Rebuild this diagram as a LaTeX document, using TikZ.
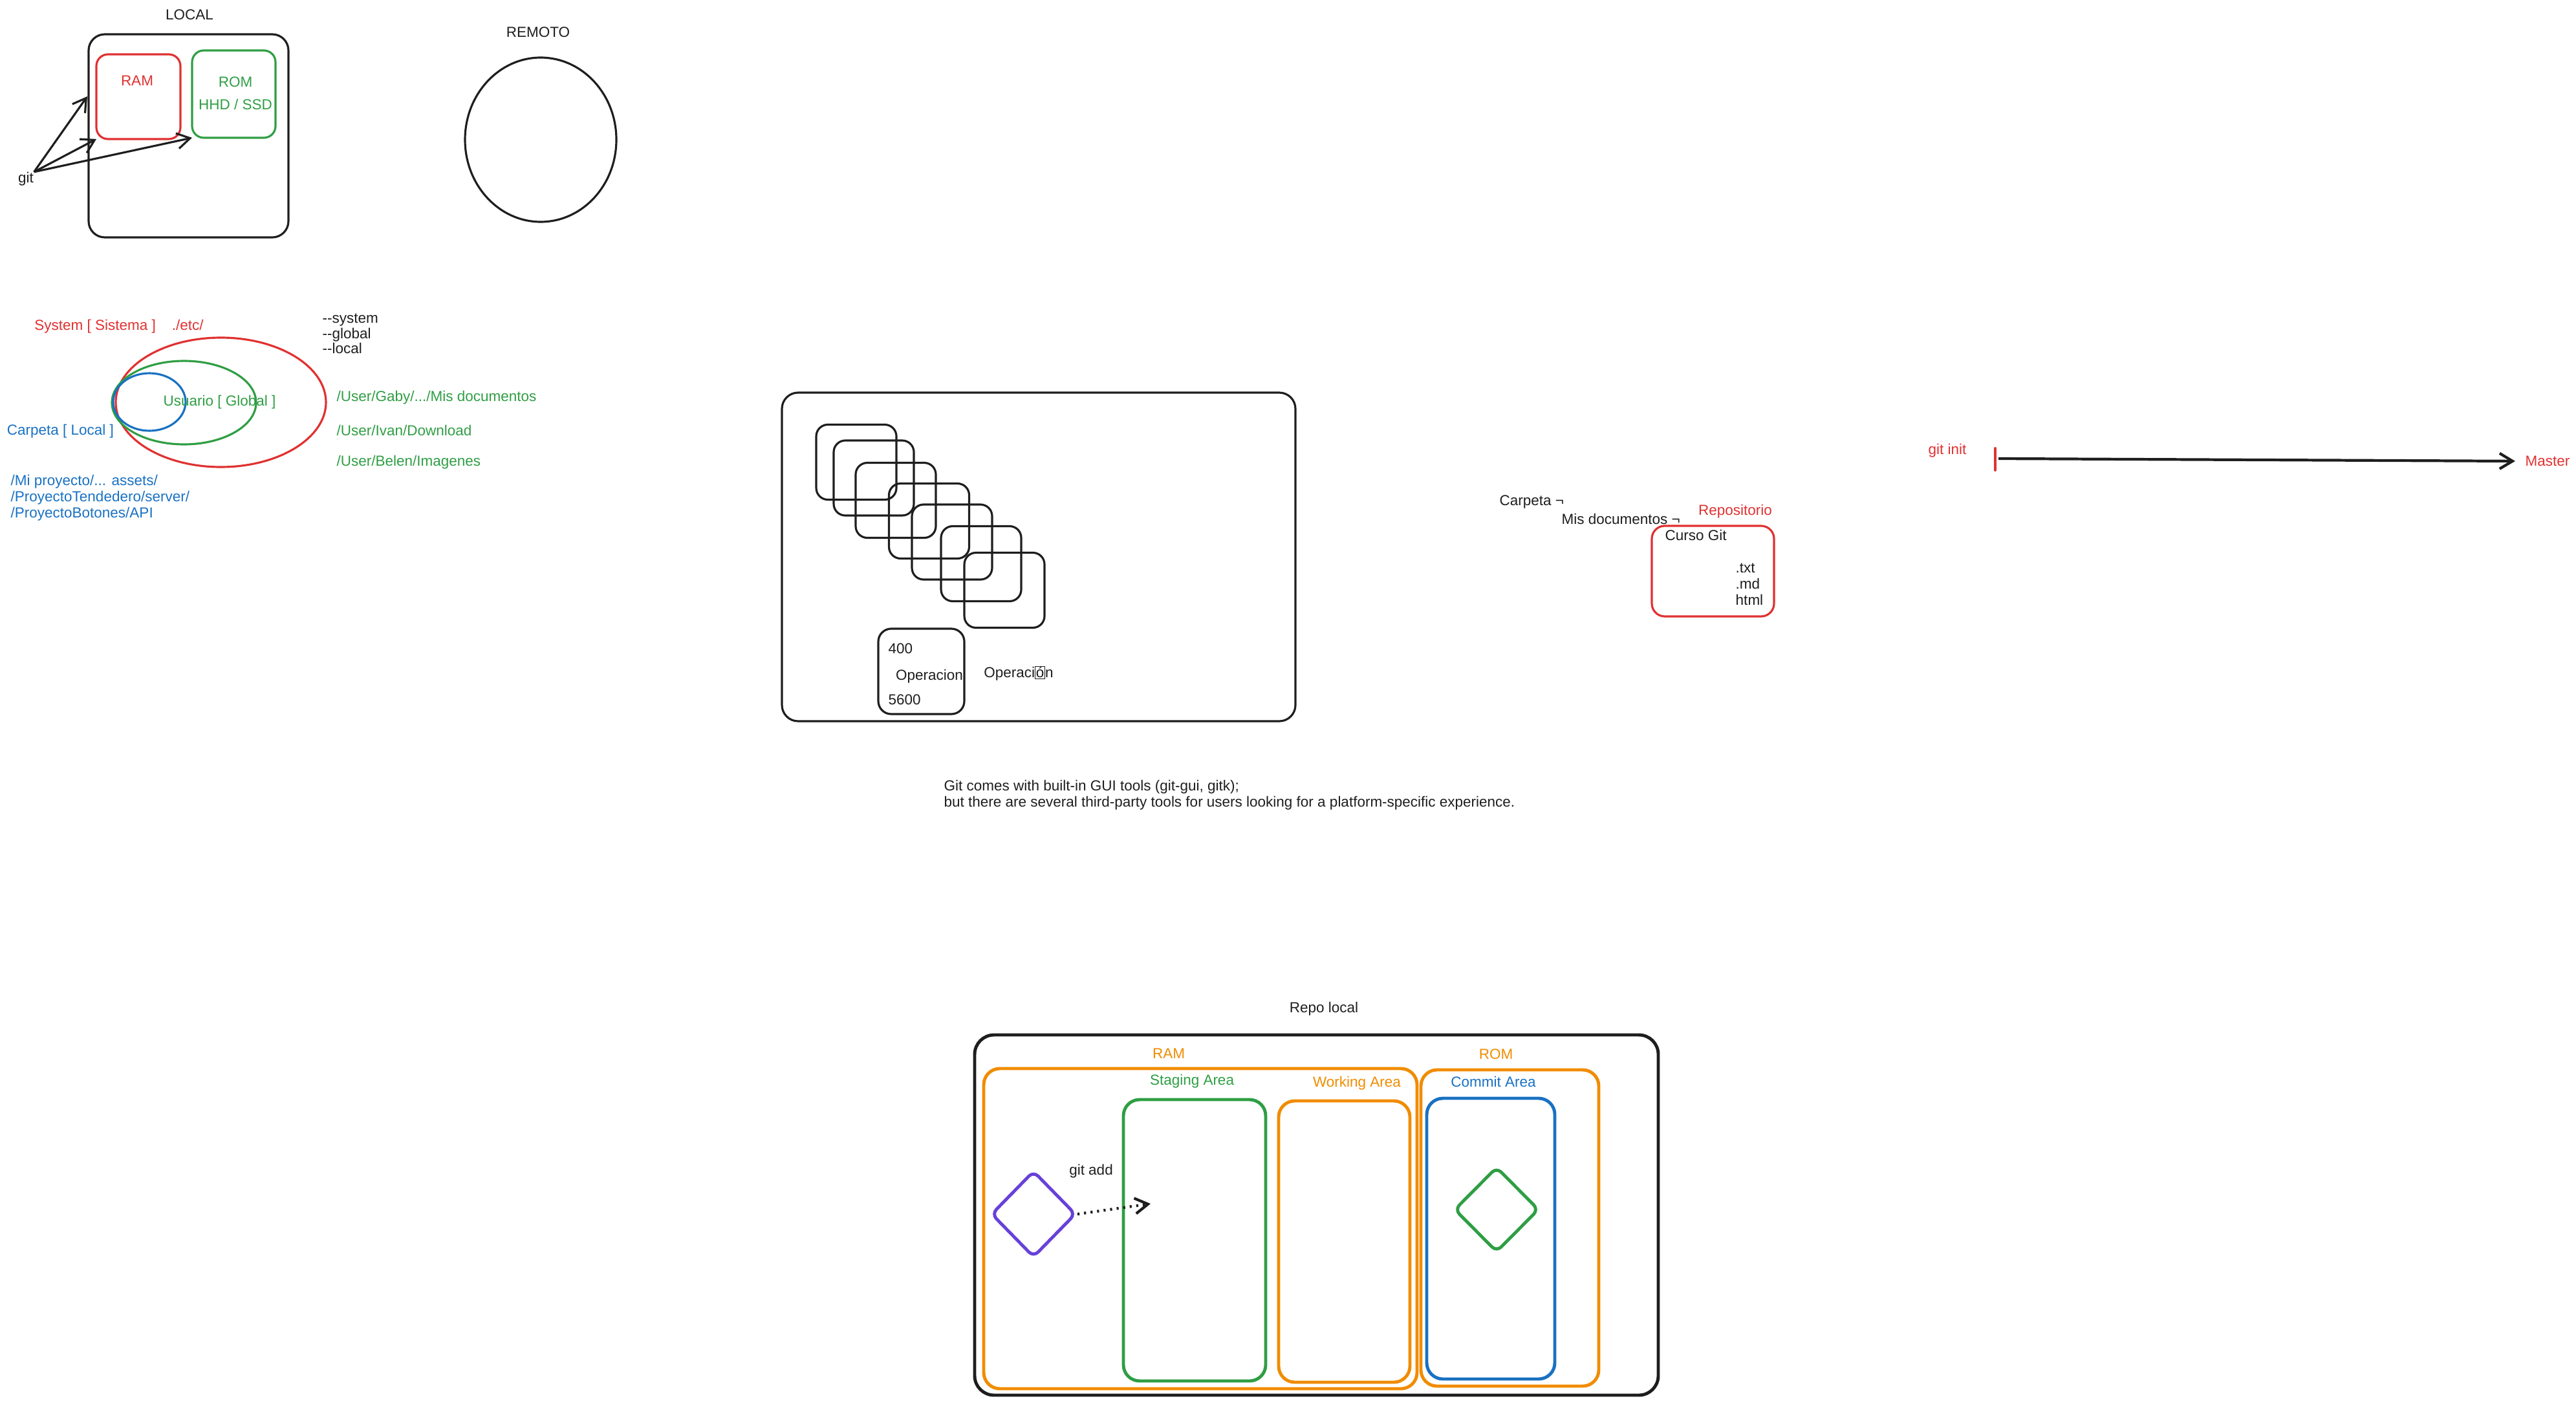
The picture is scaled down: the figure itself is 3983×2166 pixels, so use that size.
\documentclass[tikz,border=0pt]{standalone}
\usepackage{fontspec}
\setmainfont{Liberation Sans}
\usepackage{tikz}
\usetikzlibrary{arrows.meta,positioning,shapes.geometric}
\definecolor{inkblack}{HTML}{1e1e1e}
\definecolor{inkred}{HTML}{e03131}
\definecolor{inkgreen}{HTML}{2f9e44}
\definecolor{inkblue}{HTML}{1971c2}
\definecolor{inkorange}{HTML}{f08c00}
\definecolor{inkviolet}{HTML}{6741d9}

\begin{document}
\begin{tikzpicture}[
    x=0.1mm,
    y=-0.1mm,
    node distance=1mm and 2mm,
    box/.style={
        draw=#1,
        line width=0.9pt,
        rounded corners=2mm,
        inner sep=0pt,
        outer sep=0pt
    },
    box/.default=inkblack,
    area/.style={
        draw=#1,
        line width=1.4pt,
        rounded corners=2.5mm,
        inner sep=0pt,
        outer sep=0pt
    },
    area/.default=inkblack,
    ring/.style={
        draw=#1,
        ellipse,
        line width=0.9pt,
        inner sep=0pt
    },
    ring/.default=inkblack,
    gem/.style={
        draw=#1,
        diamond,
        line width=1.4pt,
        rounded corners=1mm,
        inner sep=0pt
    },
    note/.style={
        font=\fontsize{6.4}{7.1}\selectfont,
        text=#1,
        inner sep=0pt,
        align=left
    },
    note/.default=inkblack,
    arrow/.style={
        -{Straight Barb[length=2mm,width=2.4mm]},
        line width=0.9pt,
        color=inkblack
    }
]
\useasboundingbox (0,0) rectangle (3983,2166);

% Local machine
\node[note] (localtitle) at (293,23) {LOCAL};
\node[box, minimum width=30.9mm, minimum height=31.4mm, rounded corners=2.5mm] (localbox) at (291.5,210) {};
\node[box=inkred, minimum width=13mm, minimum height=13.1mm, rounded corners=1.8mm] (ram) at (214,149.5) {};
\node[note=inkred] (ramlabel) at (212,125) {RAM};
\node[box=inkgreen, minimum width=12.9mm, minimum height=13.5mm, rounded corners=1.8mm] (rom) at (361.5,145.5) {};
\node[note=inkgreen] (romlabel) at (364,127) {ROM};
\node[note=inkgreen] (disklabel) at (364,161) {HHD / SSD};

\node[note] (git) at (40,277) {git};
\coordinate (gitin) at (135,149);
\draw[arrow] (git.north east) -- (gitin);
\draw[arrow] (git.north east) -- (ram.south west);
\draw[arrow] (git.north east) -- (rom.south west);

% Remote
\node[note] (remotetitle) at (832,50) {REMOTO};
\node[ring, minimum width=23.4mm, minimum height=25.4mm] (remote) at (836,216) {};

% Config levels
\node[note=inkred] (systemlabel) at (184,505) {System [ Sistema ]\hspace{2.5mm}./etc/};
\node[note, anchor=west, font=\fontsize{6.4}{6.7}\selectfont] (flags) at (498,516) {{-}{-}system\\{-}{-}global\\{-}{-}local};

\node[ring=inkred, minimum width=32.5mm, minimum height=20mm] (systemring) at (341.5,622) {};
\node[ring=inkgreen, minimum width=22.3mm, minimum height=12.9mm] (globalring) at (284.5,622.5) {};
\node[ring=inkblue, minimum width=11.2mm, minimum height=8.9mm] (localring) at (231,621.5) {};
\node[note=inkgreen] (globallabel) at (339.5,622) {Usuario [ Global ]};
\node[note=inkblue] (locallabel) at (93.5,667) {Carpeta [ Local ]};

\node[note=inkgreen, anchor=west] (gabypath) at (520,615) {/User/Gaby/.../Mis documentos};
\node[note=inkgreen, anchor=west] (ivanpath) at (520,665) {/User/Ivan/Download};
\node[note=inkgreen, anchor=west] (belenpath) at (520,715) {/User/Belen/Imagenes};
\node[note=inkblue, anchor=west] (projpaths) at (16,770)
{/Mi proyecto/... assets/\\/ProyectoTendedero/server/\\/ProyectoBotones/API};

% Stacked operations
\node[box, minimum width=79.4mm, minimum height=50.8mm, rounded corners=2.5mm] (opsframe) at (1606,861) {};
\node[box, minimum width=12.4mm, minimum height=11.6mm, rounded corners=1.8mm] (opsA) at (1324,714.5) {};
\node[box, minimum width=12.4mm, minimum height=11.6mm, rounded corners=1.8mm] (opsB) at (1351,739) {};
\node[box, minimum width=12.4mm, minimum height=11.6mm, rounded corners=1.8mm] (opsC) at (1385,773.5) {};
\node[box, minimum width=12.4mm, minimum height=11.6mm, rounded corners=1.8mm] (opsD) at (1436.5,805.5) {};
\node[box, minimum width=12.4mm, minimum height=11.6mm, rounded corners=1.8mm] (opsE) at (1472,838) {};
\node[box, minimum width=12.4mm, minimum height=11.6mm, rounded corners=1.8mm] (opsF) at (1517,871.5) {};
\node[box, minimum width=12.4mm, minimum height=11.6mm, rounded corners=1.8mm] (opsG) at (1553,912.5) {};

\node[box, minimum width=13.3mm, minimum height=13.2mm, rounded corners=2mm] (opcard) at (1424.5,1038) {};
\node[note, anchor=west] (opfirst) at (1373,1003) {400};
\node[note] (opname) at (1437,1046) {Operacion};
\node[note, anchor=west] (oplast) at (1373,1082) {5600};
\node[note] (opaccent) at (1575,1041) {\fboxsep=0.2pt\fboxrule=0.3pt Operaci\fbox{ó}n};

% Note text
\node[note, anchor=west] (guinote) at (1459,1229.5)
{Git comes with built-in GUI tools (git-gui, gitk);\\but there are several third-party tools for users looking for a platform-specific experience.};

% Repository folder
\node[note, anchor=west] (folderlabel) at (2318,776) {Carpeta ¬};
\node[note, anchor=west] (docslabel) at (2414,802) {Mis documentos ¬};
\node[note=inkred] (repolabel) at (2683,791) {Repositorio};
\node[box=inkred, minimum width=18.9mm, minimum height=14mm, rounded corners=2mm] (repobox) at (2648.5,883) {};
\node[note, anchor=west] (coursename) at (2574,827) {Curso Git};
\node[note, anchor=west] (filetypes) at (2683,903) {.txt\\.md\\html};

% Branch line
\node[note=inkred] (initlabel) at (3011,697) {git init};
\node[note=inkred] (masterlabel) at (3939,713) {Master};
\coordinate (inittop) at (3085,693);
\coordinate (initbottom) at (3085,727);
\coordinate (initstart) at (3090,709);
\draw[inkred, line width=1.1pt, line cap=round] (inittop) -- (initbottom);
\draw[arrow, line width=1.2pt, shorten >=1.5mm] (initstart) -- (masterlabel.west);

% Local repository
\node[note] (repotitle) at (2047,1560) {Repo local};
\node[area, minimum width=105.7mm, minimum height=55.7mm, rounded corners=3mm] (repoframe) at (2035.5,1878.5) {};
\node[note=inkorange] (ramtitle) at (1807,1629) {RAM};
\node[note=inkorange] (romtitle) at (2313,1630) {ROM};
\node[area=inkorange, minimum width=67mm, minimum height=49.5mm] (ramarea) at (1856,1899.5) {};
\node[area=inkorange, minimum width=27.5mm, minimum height=48.9mm] (romarea) at (2334.5,1898.5) {};
\node[note=inkgreen] (staginglabel) at (1843,1672) {Staging Area};
\node[note=inkorange] (workinglabel) at (2098,1675) {Working Area};
\node[note=inkblue] (commitlabel) at (2309,1672) {Commit Area};
\node[area=inkgreen, minimum width=22mm, minimum height=43.5mm] (stagingarea) at (1847,1917.5) {};
\node[area=inkorange, minimum width=20.3mm, minimum height=43.5mm] (workingarea) at (2078.5,1919.5) {};
\node[area=inkblue, minimum width=19.8mm, minimum height=43.4mm] (commitarea) at (2305,1915) {};
\node[gem=inkviolet, minimum width=13.1mm, minimum height=13.4mm] (newfile) at (1598,1877) {};
\node[gem=inkgreen, minimum width=13.1mm, minimum height=13.2mm] (savedfile) at (2314,1870) {};
\node[note] (addlabel) at (1687,1811) {git add};
\coordinate (addtarget) at (1779,1861);
\draw[arrow, dotted, line width=1.2pt] (newfile.east) -- (addtarget);

\end{tikzpicture}
\end{document}
